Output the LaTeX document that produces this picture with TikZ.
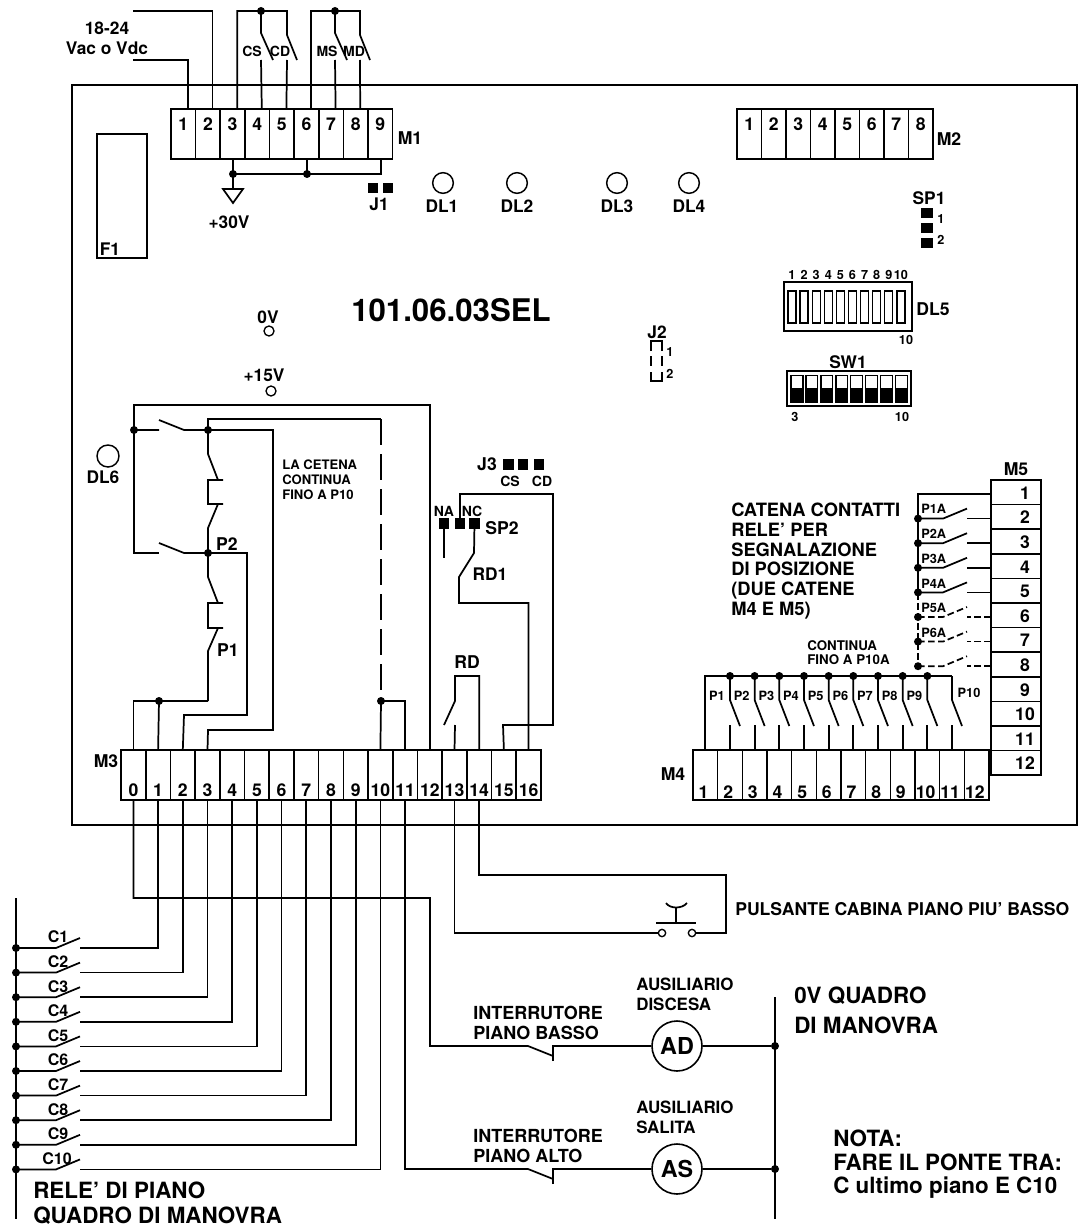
\documentclass[tikz,border=0pt]{standalone}
\usepackage{fontspec}
\setmainfont{TeX Gyre Heros}
\newcommand{\fs}[1]{\bfseries\fontsize{#1}{#1}\selectfont}
\tikzset{
    wire/.style={line width=1.3pt,line join=miter},
    dashwire/.style={wire,dash pattern=on 5pt off 2.5pt},
    longdash/.style={wire,dash pattern=on 19.5pt off 6.75pt},
    dot/.style={circle,fill=black,inner sep=0pt,minimum size=6pt},
    cell/.style={draw,line width=1.2pt,minimum width=18.45pt,minimum height=37.5pt,inner sep=0pt,outer sep=0pt},
    pad/.style={fill=black,inner sep=0pt,minimum width=8pt,minimum height=8pt},
    led/.style={draw,line width=1.1pt,circle,inner sep=0pt,minimum size=15.5pt},
    coil/.style={draw,line width=1.2pt,circle,inner sep=0pt,minimum size=37.5pt,font=\fs{17.5}},
    small/.style={font=\fs{9.5},inner sep=0pt},
    tiny/.style={font=\fs{10.5},inner sep=0pt},
    ptag/.style={font=\fs{9.6},inner sep=0pt},
    lab/.style={font=\fs{13},inner sep=0pt},
    big/.style={font=\fs{13.2},inner sep=0pt},
    num/.style={font=\fs{13.2},inner sep=0pt},
    row/.style={font=\fs{16.8},inner sep=0pt,anchor=base west}
}
\begin{document}
\begin{tikzpicture}[x=0.75pt,y=0.75pt,yscale=-1]
\useasboundingbox (0,0) rectangle (1087,1227);

% board
\draw[wire] (72,85) rectangle (1077,825);

% M1
\foreach \i in {1,...,9}{
    \node[cell] (mAc\i) at (183.3+24.62*\i-24.62,134) {};
    \node[num] (mAn\i) at (183.3+24.62*\i-24.62,124) {\i};
    \coordinate (mAw\i) at (188+24.6*\i-24.6,109);
}
\node[big] (mAl) at (410,138) {M1};
\node[lab] (vin) at (107,28) {18-24};
\node[lab] (vintwo) at (107,48) {Vac o Vdc};
\coordinate (vinA) at (133,60);
\coordinate (vinB) at (133,11);
\draw[wire] (vinA) -| (mAw1);
\draw[wire] (vinB) -| (mAw2);
\draw[wire] (mAw3) |- (287,11) -- (287,35) -- (297,60);
\draw[wire] (261,11) -- (261,33) -- (273,60);
\draw[wire] (261,60) -- (mAw4);
\draw[wire] (287,60) -- (mAw5);
\draw[wire] (mAw6) |- (360,11) -- (360,35) -- (370,60);
\draw[wire] (335,11) -- (335,33) -- (347,60);
\draw[wire] (335,60) -- (mAw7);
\draw[wire] (360,60) -- (mAw8);
\node[dot] (jCS) at (261,11) {};
\node[dot] (jMS) at (335,11) {};
\node[tiny] (lCS) at (252,51) {CS};
\node[tiny] (lCD) at (280,51) {CD};
\node[tiny] (lMS) at (327,51) {MS};
\node[tiny] (lMD) at (354,51) {MD};

% +30V
\node[dot] (jVa) at (233,174) {};
\node[dot] (jVb) at (307,174) {};
\draw[wire] (233,159) -- (233,189);
\draw[wire] (307,159) -- (307,174);
\draw[wire] (233,174) -- (381,174) -- (381,159);
\draw[wire] (223,189) -- (243,189) -- (233,203) -- cycle;
\node[lab] (vpos) at (229,222) {+30V};

% J1 and leds
\node[pad] (jA) at (373,188) {};
\node[pad] (jB) at (388,188) {};
\node[lab] (jAl) at (379,204) {J1};
\node[led] (dA) at (443,183) {};
\node[led] (dB) at (517,183) {};
\node[led] (dC) at (617,183) {};
\node[led] (dD) at (689,183) {};
\node[lab] (dAl) at (442,206) {DL1};
\node[lab] (dBl) at (517,206) {DL2};
\node[lab] (dCl) at (617,206) {DL3};
\node[lab] (dDl) at (689,206) {DL4};

% F1
\node[draw,line width=1.1pt,minimum width=37.5pt,minimum height=93pt,inner sep=0pt] (fuse) at (122,196) {};
\node[lab] (fusel) at (110,249) {F1};

% M2
\foreach \i in {1,...,8}{
    \node[cell] (mBc\i) at (749.3+24.5*\i-24.5,134) {};
    \node[num] (mBn\i) at (749.3+24.5*\i-24.5,124) {\i};
}
\node[big] (mBl) at (949,139) {M2};

% SP1
\node[lab] (spA) at (929,198) {SP1};
\foreach \i in {0,1,2}{
    \node[pad,minimum width=9pt,minimum height=7.5pt] (spA\i) at (927,213+15*\i) {};
}
\node[small] (spAa) at (941,219) {1};
\node[small] (spAb) at (941,240) {2};

% DL5
\node[draw,line width=1.1pt,minimum width=96pt,minimum height=37pt,inner sep=0pt] (dlbar) at (848,306.5) {};
\foreach \i in {1,...,10}{
    \node[draw,line width=1pt,minimum width=6pt,minimum height=24pt,inner sep=0pt] (dlc\i) at (792+12.1*\i-12.1,307) {};
    \node[small] (dln\i) at (792+12.1*\i-12.1,275) {\i};
}
\node[big] (dlbl) at (933,309) {DL5};
\node[small] (dlten) at (906,340) {10};

% SW1
\node[lab] (swl) at (848,362) {SW1};
\node[draw,line width=1.1pt,minimum width=93pt,minimum height=26.25pt,inner sep=0pt] (swbox) at (849,388.5) {};
\foreach \i in {1,...,8}{
    \node[draw,line width=1pt,minimum width=8.8pt,minimum height=20pt,inner sep=0pt] (swc\i) at (797+14.9*\i-14.9,388.5) {};
    \fill (791.2+14.9*\i-14.9,388) rectangle (802.8+14.9*\i-14.9,402);
}
\node[small] (swa) at (795,417) {3};
\node[small] (swb) at (902,417) {10};

% J2
\node[lab] (jtl) at (657,332) {J2};
\draw[wire,line width=1pt] (651,351) -- (651,341) -- (662,341) -- (662,351);
\draw[wire,line width=1pt] (651,372) -- (651,381) -- (662,381) -- (662,372);
\draw[wire,line width=1pt] (651,356) -- (651,366) (662,356) -- (662,366);
\node[small] (jta) at (670,352) {1};
\node[small] (jtb) at (670,374) {2};

% title and test points
\node[font=\fs{23.4},inner sep=0pt] (title) at (451,310) {101.06.03SEL};
\node[lab] (zv) at (268,317) {0V};
\node[draw,line width=1pt,circle,inner sep=0pt,minimum size=7.5pt] (zvc) at (269,331) {};
\node[lab] (fv) at (264,375) {+15V};
\node[draw,line width=1pt,circle,inner sep=0pt,minimum size=7.5pt] (fvc) at (271,391) {};
\node[led,minimum size=16.5pt] (dF) at (108,456) {};
\node[lab] (dFl) at (103,477) {DL6};

% M3
\foreach \i in {0,...,16}{
    \node[cell,minimum width=18.53pt] (mCc\i) at (133.4+24.7*\i,775) {};
    \node[num] (mCn\i) at (133.4+24.7*\i,790) {\i};
}
\node[big] (mCl) at (106,761) {M3};

% chain of P contacts
\node[dot] (jAa) at (134,430) {};
\node[dot] (jAb) at (208,430) {};
\node[dot] (jBb) at (208,553) {};
\node[dot] (jCa) at (159,701) {};
\node[dot] (jCb) at (381,701) {};
\draw[wire] (mCc12.north) |- (134,405) -- (134,553) -- (159,553);
\draw[wire] (134,430) -- (159,430) (159,420) -- (184,430) -- (273,430) |- (208,730) -- (mCc3.north);
\draw[wire] (159,543) -- (184,553) -- (247,553) |- (184,715) -- (mCc2.north);
\draw[wire] (208,430) -- (208,419) -- (381,419);
\draw[longdash] (381,419) -- (381,701);
\draw[wire] (mCc10.north) -- (381,701) -- (405,701) -- (mCc11.north);
\draw[wire] (208,430) -- (208,454) -- (218,480) (223,480) -- (208,480) -- (208,504) -- (223,504) (218,504) -- (208,528) -- (208,577) -- (218,603);
\draw[wire] (223,603) -- (208,603) -- (208,628) -- (223,628) (218,628) -- (208,651) -- (208,701);
\draw[wire] (mCc0.north) |- (208,701);
\draw[wire] (mCc1.north) -- (159,701);
\node[big] (ptwo) at (227,544) {P2};
\node[big] (pone) at (228,650) {P1};
\node[ptag,font=\fs{9.8},align=left,anchor=north west] (chain) at (282,460) {LA CETENA\\[1.4pt]CONTINUA\\[1.4pt]FINO A P10};

% J3, SP2, RD
\node[big] (jtr) at (487,464) {J3};
\node[pad] (jra) at (508.5,464.5) {};
\node[pad] (jrb) at (523,464.5) {};
\node[pad] (jrc) at (539,464.5) {};
\node[tiny] (lcs) at (510,481) {CS};
\node[tiny] (lcd) at (542,481) {CD};
\node[tiny] (lna) at (444,511) {NA};
\node[tiny] (lnc) at (472,511) {NC};
\node[pad] (spa) at (444,523.5) {};
\node[pad] (spb) at (460,523.5) {};
\node[pad] (spc) at (474.5,523.5) {};
\node[big] (spl) at (502,528) {SP2};
\node[lab] (rdo) at (490,574) {RD1};
\node[big] (rdl) at (467,662) {RD};
\draw[wire] (spa.center) -- (444,558);
\draw[wire] (spb.center) |- (553,494) |- (503,725) -- (mCc15.north);
\draw[wire] (spc.center) -- (474,553) -- (459,577) -- (459,603) -| (mCc16.north);
\draw[wire] (mCc13.north) -- (455,725) (444,725) -- (455,701) -- (455,676) -| (mCc14.north);

% M4
\foreach \i in {1,...,12}{
    \node[cell,minimum width=18.5pt] (mDc\i) at (705.3+24.67*\i-24.67,775) {};
    \node[num] (mDn\i) at (703.5+24.67*\i-24.67,792) {\i};
}
\node[big] (mDl) at (673,774) {M4};
\draw[wire] (mDc1.north) |- (mDc11.north |- 0,676);
\foreach \i [count=\j from 2] in {1,...,10}{
    \draw[wire] (mDc\j.north |- 0,676) -- (mDc\j.north |- 0,700) -- ++(10,26);
    \draw[wire] (mDc\j.north) -- (mDc\j.north |- 0,725);
}
\foreach \i [count=\j from 2] in {1,...,9}{
    \node[dot] (jp\i) at (mDc\j.north |- 0,676) {};
    \node[ptag] (lp\i) at (717+24.67*\i-24.67,696) {P\i};
}
\node[ptag] (lpten) at (969,693) {P10};
\node[ptag,font=\fs{10},align=left,anchor=north west] (cont) at (807,640) {CONTINUA\\[0.5pt]FINO A P10A};
\node[lab,font=\fs{13.75},align=left,anchor=north west] (catena) at (731,503) {CATENA CONTATTI\\[1pt]RELE' PER\\[1pt]SEGNALAZIONE\\[1pt]DI POSIZIONE\\[1pt](DUE CATENE\\[1pt]M4 E M5)};

% M5
\foreach \i in {1,...,12}{
    \node[cell,minimum width=37.5pt,minimum height=18.45pt] (mEc\i) at (1016,492.3+24.6*\i-24.6) {};
    \node[num] (mEn\i) at (1025,493+24.6*\i-24.6) {\i};
    \coordinate (mEw\i) at (991,494+24.6*\i-24.6);
}
\node[big] (mEl) at (1016,469) {M5};
\draw[wire] (mEw1) -- (918,494) -- (918,593);
\draw[dashwire] (918,593) -- (918,667);
\foreach \i [count=\j from 2] in {1,...,4}{
    \node[dot] (ja\i) at (mEw\j -| 918,0) {};
    \draw[wire] (ja\i.center) -- ++(25,0) -- ++(24,-10);
    \draw[wire] (mEw\j) -- ++(-24,0);
    \node[ptag,anchor=west] (pa\i) at (921,509+24.8*\i-24.8) {P\i A};
}
\foreach \i [count=\j from 6] in {5,6,7}{
    \node[dot] (ja\i) at (mEw\j -| 918,0) {};
    \draw[dashwire] (ja\i.center) -- ++(25,0) -- ++(24,-10);
    \draw[dashwire] (mEw\j) -- ++(-24,0);
}
\node[ptag,anchor=west] (pafive) at (921,608) {P5A};
\node[ptag,anchor=west] (pasix) at (921,633) {P6A};

% C contacts
\coordinate (busT) at (16,898);
\coordinate (busB) at (16,1219);
\draw[wire] (busT) -- (busB);
\foreach \i in {1,...,10}{
    \node[dot] (jc\i) at (16,948+24.6*\i-24.6) {};
    \draw[wire] (jc\i.center) -- ++(40,0) -- ++(24,-10);
    \draw[wire] (80,948+24.6*\i-24.6) -| (mCc\i.south);
}
\foreach \i in {1,...,9}{
    \node[tiny,font=\fs{12}] (lc\i) at (58,937+24.6*\i-24.6) {C\i};
}
\node[tiny,font=\fs{12}] (lcten) at (57,1159) {C10};
\node[row] (rele) at (33,1198) {RELE' DI PIANO};
\node[row] (quadro) at (33,1223) {QUADRO DI MANOVRA};

% lower wiring
\node[coil] (coilAD) at (677,1046) {AD};
\node[coil] (coilAS) at (677,1169) {AS};
\coordinate (busO) at (775,997);
\coordinate (busP) at (775,1219);
\draw[wire] (busO) -- (busP);
\node[dot] (jd) at (775,1046) {};
\node[dot] (js) at (775,1169) {};
\draw[wire] (mCc0.south) |- (430,898) |- (528,1046) -- (553,1056);
\draw[wire] (553,1061) -- (553,1046) -- (coilAD) -- (jd);
\draw[wire] (mCc11.south) |- (528,1169) -- (553,1179);
\draw[wire] (553,1184) -- (553,1169) -- (coilAS) -- (js);
\node[draw,line width=1pt,circle,inner sep=0pt,minimum size=5.5pt] (pba) at (662,933) {};
\node[draw,line width=1pt,circle,inner sep=0pt,minimum size=5.5pt] (pbb) at (692,933) {};
\draw[wire] (mCc13.south) |- (pba);
\draw[wire] (mCc14.south) |- (726,875) |- (pbb);
\draw[wire] (656,923) -- (696,923) (676,923) -- (676,908);
\draw[wire] (666,903) .. controls (670,909) and (682,909) .. (687,903);
\node[lab,anchor=west,font=\fs{13.2}] (pbl) at (735,909) {PULSANTE CABINA PIANO PIU' BASSO};
\node[lab,font=\fs{12.7},align=left,anchor=west] (ausd) at (636,994.5) {AUSILIARIO\\[2.2pt]DISCESA};
\node[lab,font=\fs{12.7},align=left,anchor=west] (auss) at (636,1117.5) {AUSILIARIO\\[2pt]SALITA};
\node[lab,font=\fs{13.5},align=left,anchor=west] (intb) at (473,1023) {INTERRUTORE\\[1.5pt]PIANO BASSO};
\node[lab,font=\fs{13.5},align=left,anchor=west] (inta) at (473,1146) {INTERRUTORE\\[1.5pt]PIANO ALTO};
\node[row] (zva) at (794,1003) {0V QUADRO};
\node[row] (zvb) at (794,1033) {DI MANOVRA};
\node[row] (nota) at (833,1146) {NOTA:};
\node[row] (notb) at (833,1170) {FARE IL PONTE TRA:};
\node[row] (notc) at (833,1193) {C ultimo piano E C10};
\end{tikzpicture}
\end{document}
